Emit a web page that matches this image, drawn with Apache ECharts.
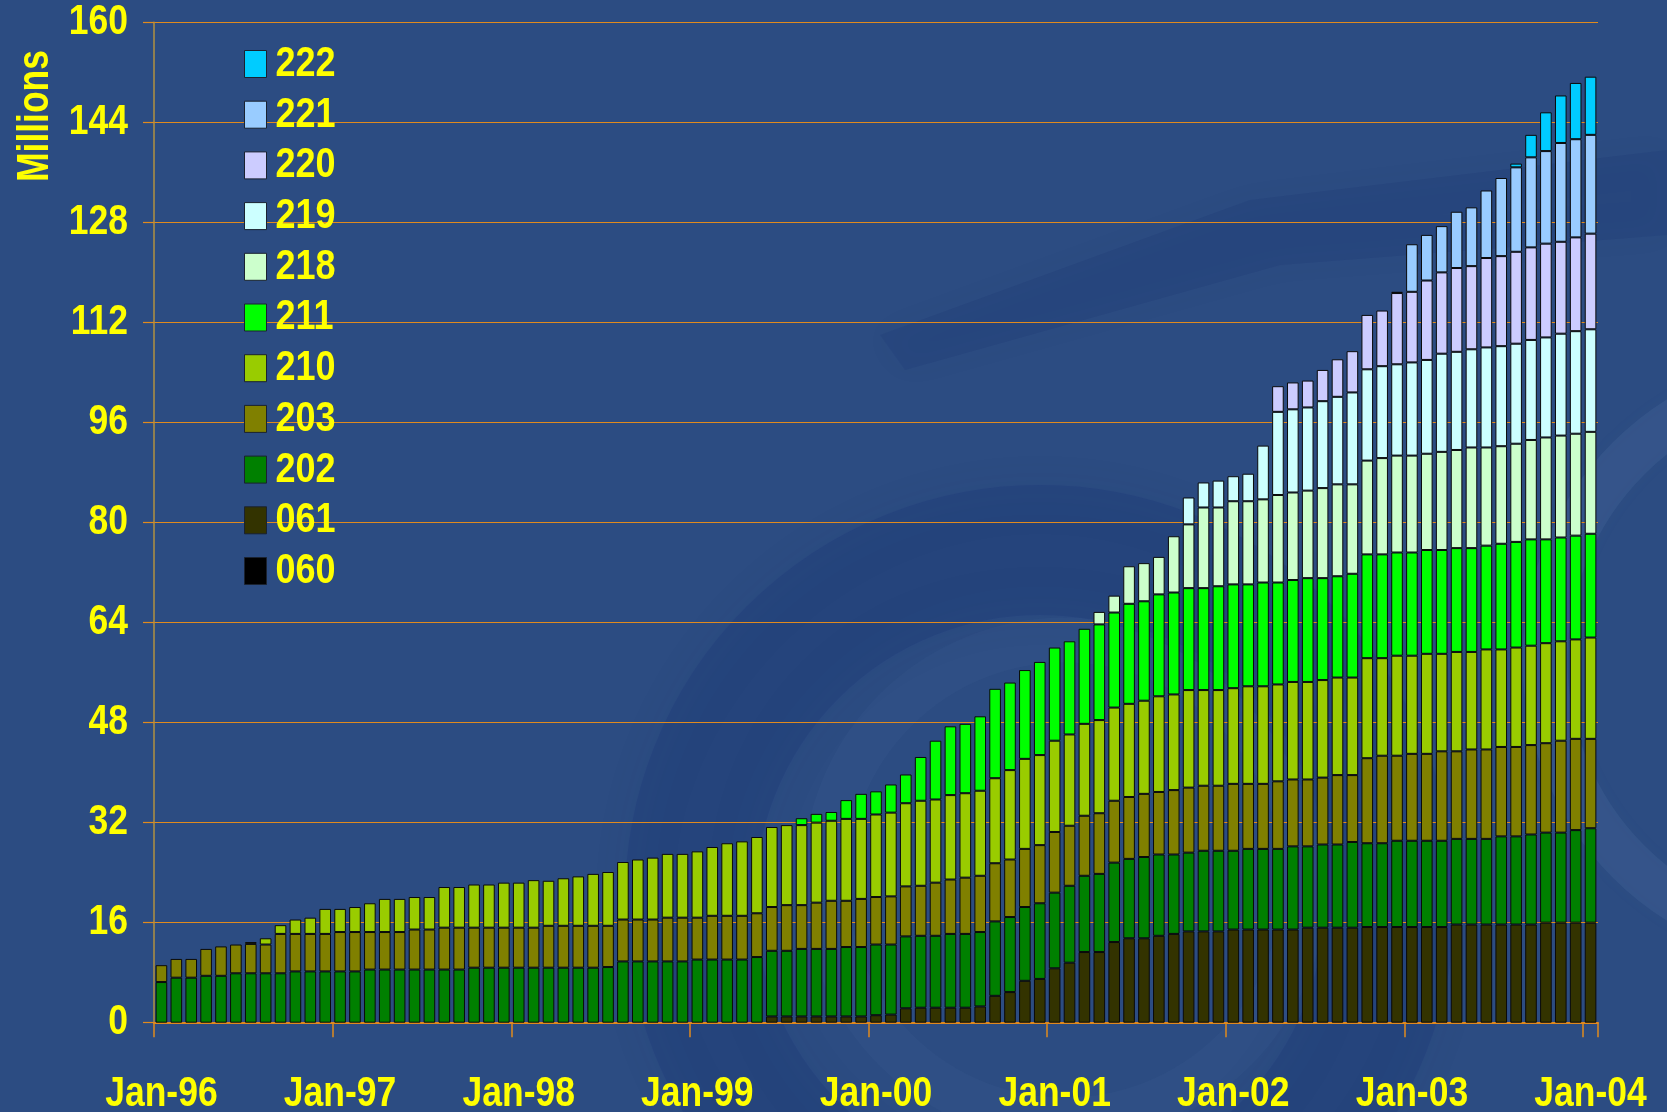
<!DOCTYPE html>
<html><head><meta charset="utf-8">
<script src="https://cdn.jsdelivr.net/npm/echarts@6/dist/echarts.min.js"></script>
<style>html,body{margin:0;padding:0;background:#2c4c82;}#c{width:1667px;height:1112px;}</style>
</head><body><div id="c"></div><script>
// ---- categories ----
const monthNames = ['Jan','Feb','Mar','Apr','May','Jun','Jul','Aug','Sep','Oct','Nov','Dec'];
const yearLabels = ['96','97','98','99','00','01','02','03','04'];
const categories = [];
yearLabels.forEach(function (y, yi) {
  monthNames.forEach(function (m, mi) { if (yi < 8 || mi === 0) categories.push(m + '-' + y); });
});
const yTicks = { min: 0, max: 160, step: 16 };
function lead(n, arr) { const out = []; for (let i = 0; i < n; i++) out.push(null); return out.concat(arr); }

// ---- series values (millions) ----
const s060 = lead(97, []);
const s061 = lead(41, [1.0,1.0,1.0,1.0,1.0,1.0,1.0,1.2,1.3,2.3,2.4,2.4,2.4,2.4,2.6,4.3,4.9,6.7,7.0,8.7,9.6,11.3,11.3,12.9,13.5,13.5,13.9,14.2,14.6,14.6,14.6,14.9,14.9,14.9,14.9,14.9,15.2,15.2,15.2,15.2,15.3,15.3,15.3,15.3,15.3,15.3,15.7,15.7,15.7,15.7,15.7,15.7,16.0,16.0,16.0,16.0]);
const s202 = [6.5,7.2,7.2,7.5,7.5,7.9,7.9,7.9,7.9,8.2,8.2,8.2,8.2,8.2,8.5,8.5,8.5,8.5,8.5,8.5,8.5,8.8,8.8,8.8,8.8,8.8,8.8,8.8,8.8,8.8,8.9,9.8,9.8,9.8,9.8,9.8,10.1,10.1,10.1,10.1,10.5,
  10.5,10.5,10.8,10.8,10.8,11.1,11.1,11.3,11.2,11.5,11.5,11.5,11.8,11.8,11.9,11.9,12.0,11.8,12.1,12.1,12.3,12.2,12.5,12.7,12.7,13.0,13.0,12.7,12.6,12.9,12.9,12.6,12.9,12.9,12.9,13.3,13.0,13.3,13.3,13.7,
  13.4,13.4,13.8,13.8,13.8,13.8,13.7,13.7,13.7,14.1,14.1,14.4,14.4,14.4,14.8,15.1];
const s203 = [2.7,3.0,3.0,4.3,4.7,4.6,4.7,4.6,6.3,6.0,6.0,6.0,6.3,6.3,6.0,6.0,6.0,6.4,6.4,6.7,6.7,6.4,6.4,6.4,6.4,6.4,6.7,6.7,6.7,6.7,6.6,6.7,6.7,6.7,7.0,7.0,6.7,7.0,7.0,7.0,7.0,
  7.0,7.3,7.0,7.4,7.7,7.4,7.7,7.6,7.7,8.0,8.0,8.5,8.7,9.0,9.0,9.3,9.2,9.3,9.3,9.7,9.6,9.6,9.7,9.9,9.9,10.1,10.0,10.3,10.4,10.4,10.4,10.7,10.4,10.4,10.8,10.7,10.7,10.7,11.1,10.7,13.6,14.0,13.6,13.9,13.9,14.3,14.0,14.3,14.3,14.3,14.3,14.3,14.3,14.7,14.6,14.3];
const s210 = lead(6, [0.3,1.0,1.4,2.3,2.6,4.0,3.7,4.0,4.6,5.3,5.3,5.2,5.2,6.5,6.5,6.9,6.9,7.2,7.2,7.6,7.2,7.6,7.9,8.3,8.6,9.2,9.6,9.9,10.2,10.2,10.6,11.0,11.6,11.9,12.2,
  12.8,12.8,12.8,12.8,12.8,13.1,12.8,13.2,13.4,13.3,13.6,13.3,13.5,13.5,13.6,13.6,14.3,14.4,14.4,14.6,14.6,14.7,14.9,14.9,14.9,14.9,15.3,15.3,15.6,15.3,15.3,15.3,15.6,15.6,15.5,15.6,15.6,15.6,15.6,15.6,16.0,15.6,16.0,15.7,16.0,15.6,15.9,15.6,16.0,15.6,15.9,15.9,16.0,15.9,15.9,16.2]);
const s211 = lead(43, [1.1,1.4,1.4,3.0,4.0,3.7,4.5,4.6,7.0,9.4,11.0,11.1,11.9,14.3,14.0,14.2,14.9,14.9,14.9,15.2,15.3,15.2,16.0,15.9,16.3,16.3,16.3,16.3,16.6,16.6,16.3,16.6,16.3,16.3,16.6,16.3,16.2,16.6,16.6,16.6,16.5,16.5,16.6,16.6,16.6,16.6,16.6,16.9,16.9,17.0,16.6,16.6,16.6,16.6]);
const s218 = lead(63, [2.0,2.7,6.0,6.1,6.0,9.0,10.2,12.9,12.6,13.3,13.3,13.3,14.0,14.0,14.0,14.4,14.7,14.3,15.0,15.4,15.5,15.5,15.4,15.7,15.7,16.1,15.7,15.6,15.7,15.9,16.3,16.3,16.3,16.3]);
const s219 = lead(69, [4.3,4.0,4.3,4.0,4.4,8.6,13.3,13.3,13.3,13.9,14.0,14.7,14.6,14.7,14.6,14.9,15.0,15.7,15.7,15.7,16.0,16.0,16.0,16.0,16.0,16.3,16.4,16.4]);
const s220 = lead(75, [4.1,4.3,4.3,5.0,6.0,6.6,8.7,8.9,11.4,11.3,12.7,13.0,13.4,13.3,14.3,14.4,14.7,14.8,15.0,14.7,15.0,15.3]);
const s221 = lead(83, [0.2,7.6,7.3,7.4,9.0,9.4,10.8,12.5,13.5,14.4,14.8,15.8,15.7,15.8]);
const s222 = lead(91, [0.6,3.6,6.2,7.6,9.0,9.3]);

const seriesNames = ['060','061','202','203','210','211','218','219','220','221','222'];
const seriesData = [s060,s061,s202,s203,s210,s211,s218,s219,s220,s221,s222];
const seriesColors = ['#000000','#333300','#008000','#808000','#99cc00','#00ff00','#ccffcc','#ccffff','#ccccff','#99ccff','#00ccff'];

const baseFont = '"Liberation Sans", Arial, sans-serif';
const YEL = '#ffff00';
const GRID = '#e08a1e';
const STRETCH = 1.2;

const chart = echarts.init(document.getElementById('c'), null, { renderer: 'canvas' });
chart.setOption({
  animation: false,
  backgroundColor: '#2c4c82',
  grid: { left: 154, right: 69, top: 22.3, bottom: 89.3, containLabel: false },
  legend: {
    orient: 'vertical', left: 244, top: 46, padding: 0,
    itemWidth: 22, itemHeight: 27, itemGap: 14.7, icon: 'rect',
    data: seriesNames.slice().reverse(),
    itemStyle: { borderColor: '#1a2230', borderWidth: 1 },
    textStyle: { color: YEL, fontSize: 36, fontWeight: 'bold', fontFamily: baseFont, lineHeight: 36, padding: [0, 0, 0, 4] }
  },
  graphic: [
    { type: 'circle', z: -10, silent: true, shape: { cx: 1040, cy: 900, r: 350 }, style: { fill: 'none', stroke: 'rgba(18,45,110,0.20)', lineWidth: 130, shadowBlur: 40, shadowColor: 'rgba(18,45,110,0.3)' } },
    { type: 'circle', z: -10, silent: true, shape: { cx: 1065, cy: 880, r: 240 }, style: { fill: 'none', stroke: 'rgba(110,140,195,0.06)', lineWidth: 45 } },
    { type: 'circle', z: -10, silent: true, shape: { cx: 1830, cy: 660, r: 285 }, style: { fill: 'none', stroke: 'rgba(120,150,200,0.11)', lineWidth: 45, shadowBlur: 20, shadowColor: 'rgba(120,150,200,0.2)' } },
    { type: 'polygon', z: -10, silent: true, shape: { points: [[880,335],[1250,200],[1667,150],[1667,235],[1280,265],[905,370]] }, style: { fill: 'rgba(20,45,110,0.12)', shadowBlur: 30, shadowColor: 'rgba(20,45,110,0.25)' } },
    {
      type: 'text', x: 36, y: 116, rotation: Math.PI / 2, scaleY: 1.25,
      style: { text: 'Millions', fill: YEL, font: 'bold 35.4px ' + baseFont, textAlign: 'center', textVerticalAlign: 'middle' }
    }
  ],
  xAxis: {
    type: 'category', data: categories, boundaryGap: true,
    axisLine: { lineStyle: { color: GRID, width: 2 } },
    axisTick: { show: true, interval: 11, length: 14.5, lineStyle: { color: GRID, width: 1.5 } },
    axisLabel: { interval: 11, color: YEL, fontWeight: 'bold', fontSize: 35.5, fontFamily: baseFont, margin: 50 },
    splitLine: { show: false }
  },
  yAxis: {
    type: 'value', min: yTicks.min, max: yTicks.max, interval: yTicks.step,
    axisLine: { show: true, lineStyle: { color: '#b09040', width: 1.5 } },
    axisTick: { show: true, length: 11, lineStyle: { color: GRID, width: 1.2 } },
    axisLabel: { color: YEL, fontWeight: 'bold', fontSize: 35.5, fontFamily: baseFont, margin: 26 },
    splitLine: { show: true, lineStyle: { color: GRID, width: 1.2 } }
  },
  series: seriesNames.map(function (n, i) {
    return {
      name: n, type: 'bar', stack: 'all', barWidth: '78%',
      data: seriesData[i],
      itemStyle: { color: seriesColors[i], borderColor: '#0a0a0a', borderWidth: 1 },
      emphasis: { disabled: true }
    };
  })
});

// The reference's lettering is tall and narrow: stretch the axis and legend texts vertically.
function stretchTexts() {
  const zr = chart.getZr();
  function visit(el) {
    if (el.type === 'text' && el.style && typeof el.style.text === 'string' && !el.__stretched) {
      const t = el.style.text;
      if (/^\d+$/.test(t) || /^Jan-\d\d$/.test(t)) {
        el.originX = el.style.x || 0;
        el.originY = el.style.y || 0;
        el.scaleY = (el.scaleY || 1) * STRETCH;
        el.__stretched = true;
        el.markRedraw();
      }
    }
    if (el.isGroup && el.children) el.children().forEach(visit);
  }
  zr.storage.getRoots().forEach(visit);
  zr.refreshImmediately();
}
stretchTexts();
chart.on('finished', stretchTexts);
</script></body></html>
